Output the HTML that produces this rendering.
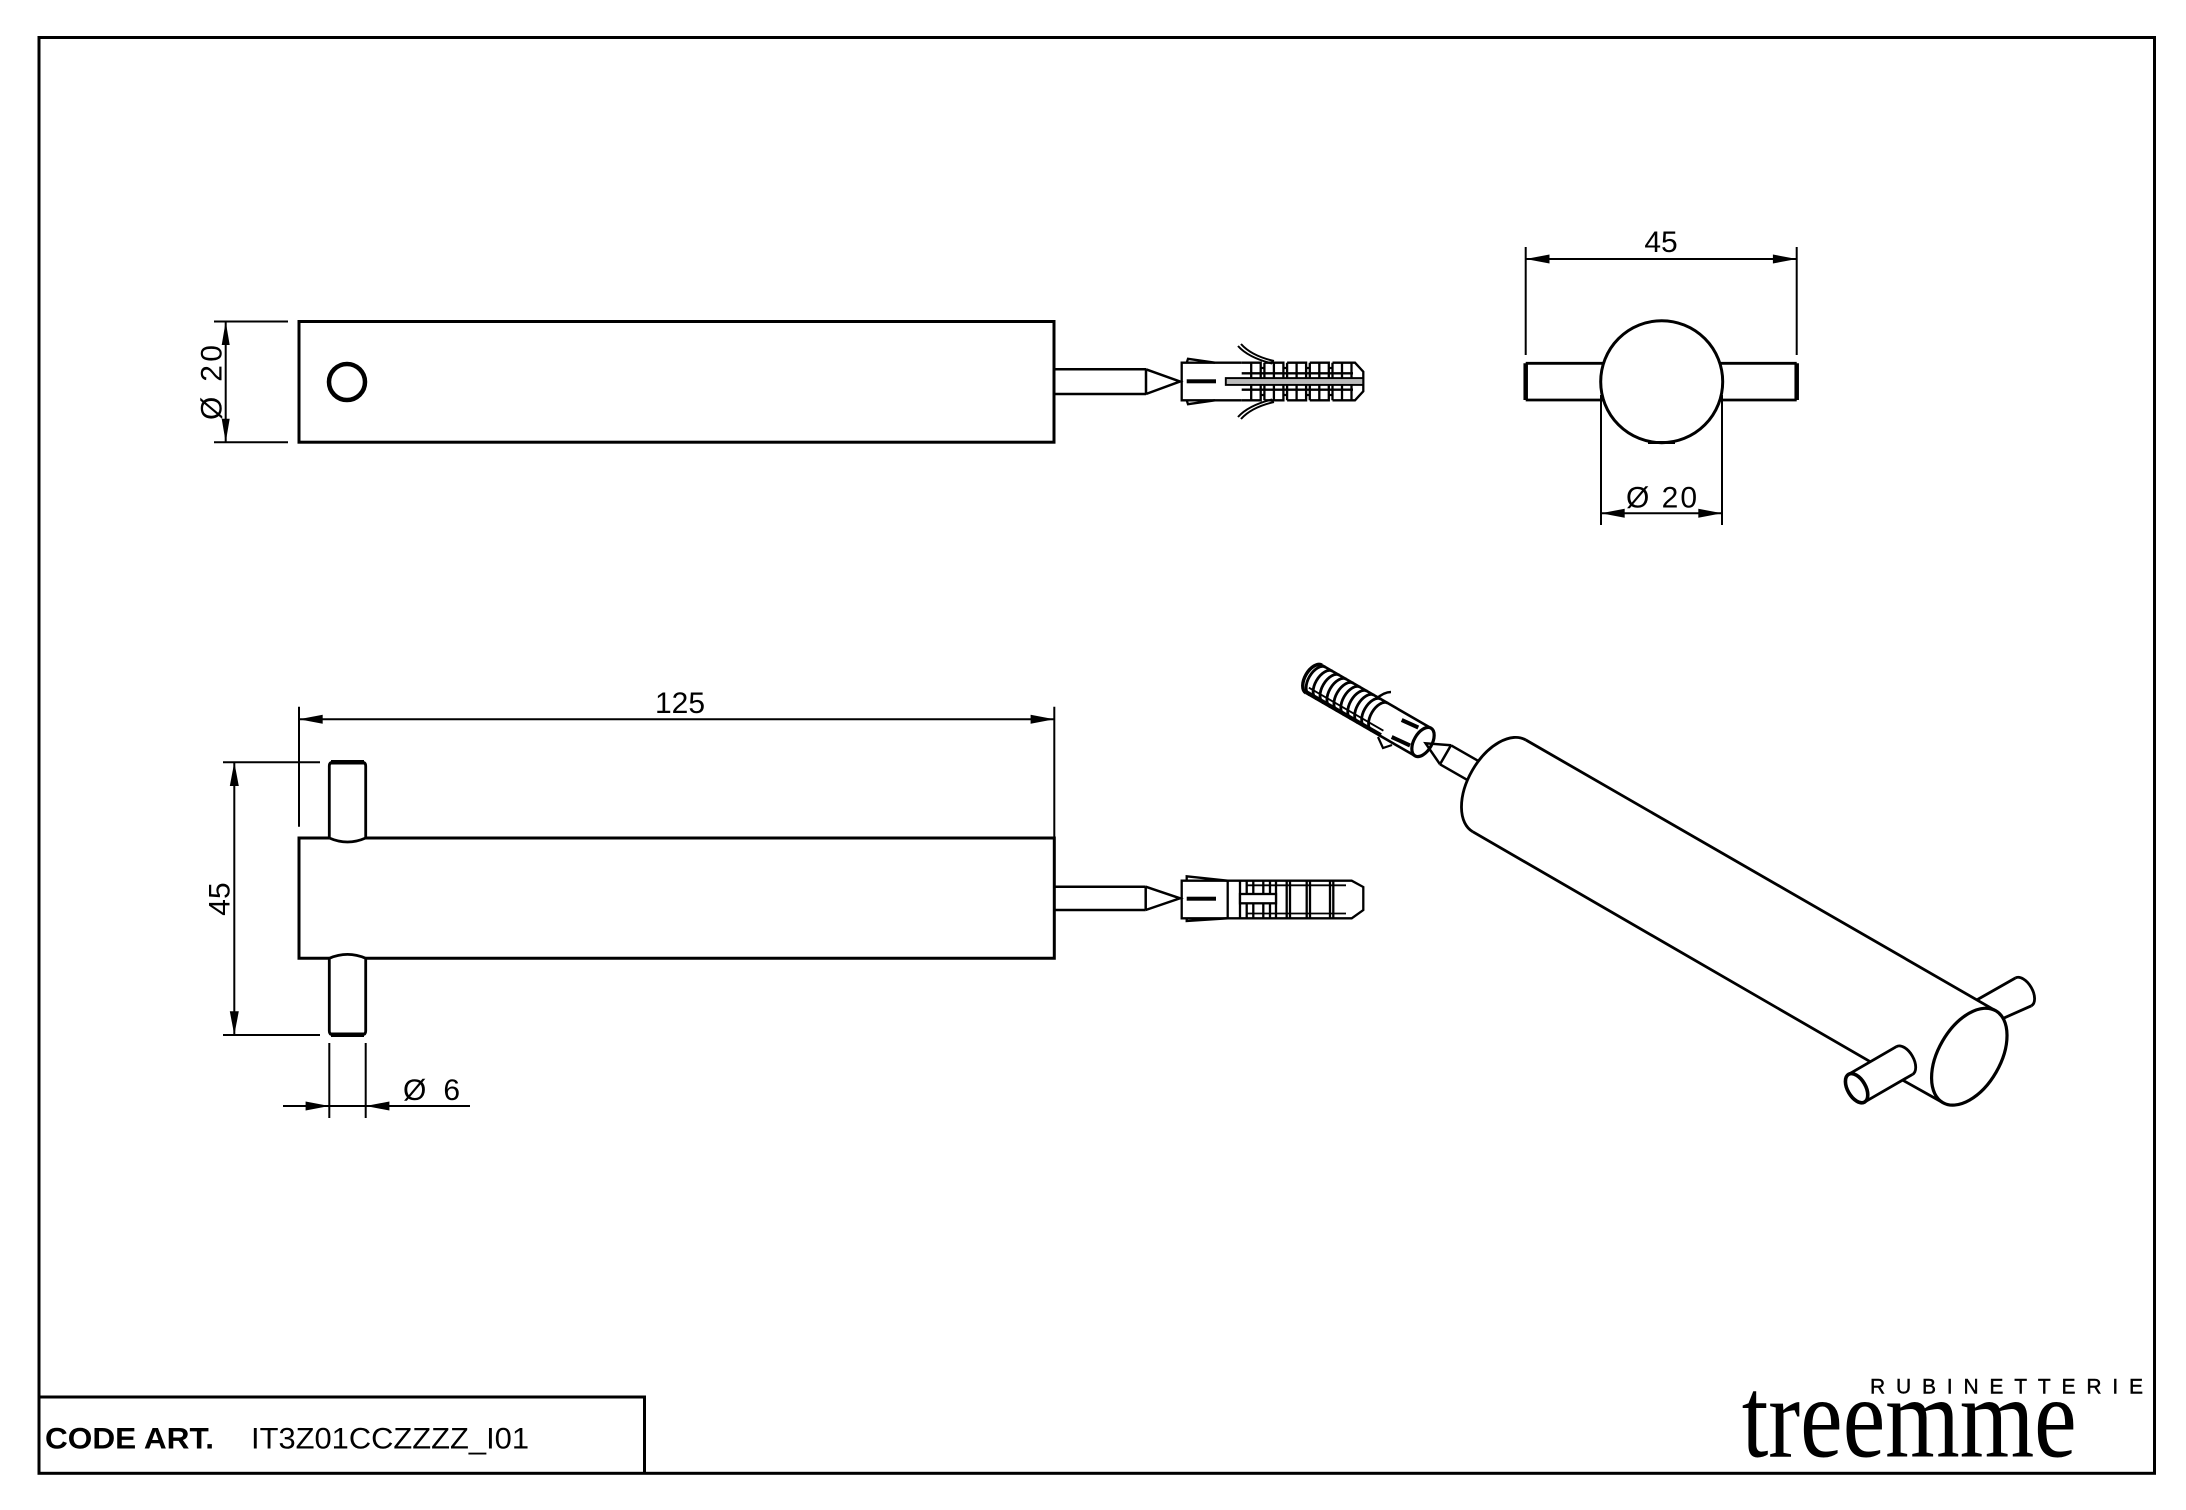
<!DOCTYPE html>
<html>
<head>
<meta charset="utf-8">
<style>
html,body{margin:0;padding:0;background:#fff;}
svg{display:block;}
text{font-family:"Liberation Sans",Arial,sans-serif;fill:#000;}
</style>
</head>
<body>
<svg width="2186" height="1510" viewBox="0 0 2186 1510" xmlns="http://www.w3.org/2000/svg">
<rect x="0" y="0" width="2186" height="1510" fill="#fff"/>

<!-- outer border -->
<rect x="39" y="37.5" width="2115.5" height="1435.8" fill="none" stroke="#000" stroke-width="3"/>
<!-- title block -->
<path d="M39,1397 H644.5 V1473.3" fill="none" stroke="#000" stroke-width="3"/>
<text x="45" y="1448.3" font-size="30" font-weight="bold" textLength="169" lengthAdjust="spacingAndGlyphs">CODE ART.</text>
<text x="251" y="1448.3" font-size="30" textLength="278" lengthAdjust="spacingAndGlyphs">IT3Z01CCZZZZ_I01</text>

<!-- logo -->
<text x="1870" y="1393.3" font-size="21" stroke="#000" stroke-width="0.4" textLength="273" lengthAdjust="spacing">RUBINETTERIE</text>
<text x="1741.7" y="1456.7" font-size="115" style="font-family:'Liberation Serif','Times New Roman',serif" textLength="335" lengthAdjust="spacingAndGlyphs">treemme</text>

<!-- ================= TOP-LEFT VIEW ================= -->
<g fill="none" stroke="#000">
  <rect x="299" y="321.5" width="755" height="120.7" stroke-width="3"/>
  <circle cx="347" cy="382" r="18" stroke-width="4.5"/>
  <path d="M214,321.5 H288 M214,442.2 H288 M225.7,321.5 V442.2" stroke-width="2"/>
  <path d="M1054,369.3 H1146 M1054,394 H1146 M1146,369.3 V394 M1146,369.3 L1180,381.5 L1146,394" stroke-width="2.5"/>
</g>
<polygon points="225.7,321.5 221.7,345 229.7,345" fill="#000"/>
<polygon points="225.7,442.2 221.7,418.7 229.7,418.7" fill="#000"/>
<text transform="translate(221.7,382.5) rotate(-90)" font-size="30" text-anchor="middle" textLength="75" lengthAdjust="spacing">Ø 20</text>

<!-- top anchor -->
<g fill="none" stroke="#000" stroke-width="2.3">
  <path d="M1241.7,362.7 H1181.7 V400.3 H1241.7"/>
  <path d="M1186.7,362.7 L1188,358.8 L1215,362.7 M1186.7,400.3 L1188,404.2 L1215,400.3"/>
  <path d="M1363.3,378.3 H1226 V384.7 H1363.3"/>
  <path d="M1241.7,373.3 H1353 M1241.7,389.7 H1353"/>
  <path d="M1241.7,362.7 H1260.7 V378.3 M1251.2,362.7 V378.3 M1260.7,368 H1264.4 M1264.4,362.7 H1283.4 V378.3 M1264.4,362.7 V378.3 M1273.9,362.7 V378.3 M1283.4,368 H1287.1 M1287.1,362.7 H1306.1 V378.3 M1287.1,362.7 V378.3 M1296.6,362.7 V378.3 M1306.1,368 H1309.8 M1309.8,362.7 H1328.8 V378.3 M1309.8,362.7 V378.3 M1319.3,362.7 V378.3 M1328.8,368 H1332.5 M1332.5,362.7 H1351.5 V378.3 M1332.5,362.7 V378.3 M1342,362.7 V378.3"/>
  <path d="M1241.7,400.3 H1260.7 V384.7 M1251.2,400.3 V384.7 M1260.7,395 H1264.4 M1264.4,400.3 H1283.4 V384.7 M1264.4,400.3 V384.7 M1273.9,400.3 V384.7 M1283.4,395 H1287.1 M1287.1,400.3 H1306.1 V384.7 M1287.1,400.3 V384.7 M1296.6,400.3 V384.7 M1306.1,395 H1309.8 M1309.8,400.3 H1328.8 V384.7 M1309.8,400.3 V384.7 M1319.3,400.3 V384.7 M1328.8,395 H1332.5 M1332.5,400.3 H1351.5 V384.7 M1332.5,400.3 V384.7 M1342,400.3 V384.7"/>
  <path d="M1351.5,362.7 H1355 L1363.3,371.7 V391.3 L1355,400.3 H1351.5"/>
  <path d="M1238,346 C1246,355 1258,360 1272,363.5 M1241,344 C1249,353 1261,358 1274,361" stroke-width="2"/>
  <path d="M1238,417 C1246,408 1258,403 1272,399.5 M1241,419 C1249,410 1261,405 1274,402" stroke-width="2"/>
</g>
<rect x="1226" y="378.3" width="137" height="6.4" fill="#bbb" stroke="#000" stroke-width="1.5"/>
<rect x="1186.7" y="379.3" width="29.3" height="4" fill="#000"/>

<!-- ================= TOP-RIGHT VIEW ================= -->
<g fill="none" stroke="#000">
  <path d="M1525.7,247 V355 M1796.7,247 V355 M1525.7,259 H1796.7" stroke-width="2"/>
  <circle cx="1661.7" cy="381.7" r="61" stroke-width="3"/>
  <path d="M1525.7,363.3 H1603.5 M1525.7,400 H1603.5 M1719.9,363.3 H1796.7 M1719.9,400 H1796.7" stroke-width="2.8"/>
  <path d="M1525.7,363.3 V400 M1796.7,363.3 V400" stroke-width="4.5"/>
  <path d="M1601,395 V525 M1722,395 V525 M1601,513.3 H1722" stroke-width="2"/>
  <path d="M1648,442.5 H1675" stroke-width="3"/>
</g>
<polygon points="1525.7,259 1549.5,254.5 1549.5,263.5" fill="#000"/>
<polygon points="1796.7,259 1772.9,254.5 1772.9,263.5" fill="#000"/>
<polygon points="1601,513.3 1624.7,508.8 1624.7,517.8" fill="#000"/>
<polygon points="1722,513.3 1698.3,508.8 1698.3,517.8" fill="#000"/>
<text x="1661" y="252" font-size="30" text-anchor="middle">45</text>
<text x="1626" y="507.3" font-size="30" textLength="71" lengthAdjust="spacing">Ø 20</text>

<!-- ================= BOTTOM-LEFT VIEW ================= -->
<g fill="none" stroke="#000">
  <path d="M329.3,838 H299 V958.3 H329.3 M365.7,958.3 H1054.3 V838 H365.7" stroke-width="3"/>
  <path d="M329.3,838 V766 Q329.3,762.3 333,762.3 H362 Q365.7,762.3 365.7,766 V838 Q347.5,846 329.3,838" stroke-width="2.8"/>
  <path d="M331,762.3 H364" stroke-width="4.5"/>
  <path d="M329.3,958.3 V1031 Q329.3,1034.7 333,1034.7 H362 Q365.7,1034.7 365.7,1031 V958.3 Q347.5,950.5 329.3,958.3" stroke-width="2.8"/>
  <path d="M331,1034.7 H364" stroke-width="4.5"/>
  <path d="M299,706.7 V826.7 M1054.3,706.7 V838 M299,719.3 H1054.3" stroke-width="2"/>
  <path d="M223,762.3 H320 M223,1035 H320 M234.3,762.3 V1035" stroke-width="2"/>
  <path d="M329.3,1043 V1118 M365.7,1043 V1118 M283,1106 H470" stroke-width="2"/>
  <path d="M1054.3,886.7 H1145.7 M1054.3,910 H1145.7 M1145.7,886.7 V910 M1145.7,886.7 L1180,898.3 L1145.7,910" stroke-width="2.5"/>
</g>
<polygon points="299,719.3 322.7,714.8 322.7,723.8" fill="#000"/>
<polygon points="1054.3,719.3 1030.6,714.8 1030.6,723.8" fill="#000"/>
<polygon points="234.3,762.3 229.8,786 238.8,786" fill="#000"/>
<polygon points="234.3,1035 229.8,1011.3 238.8,1011.3" fill="#000"/>
<polygon points="329.3,1106 305.6,1101.5 305.6,1110.5" fill="#000"/>
<polygon points="365.7,1106 389.4,1101.5 389.4,1110.5" fill="#000"/>
<text x="680" y="713" font-size="30" text-anchor="middle">125</text>
<text transform="translate(229.3,899) rotate(-90)" font-size="30" text-anchor="middle">45</text>
<text x="403" y="1100" font-size="30" textLength="57" lengthAdjust="spacing">Ø 6</text>

<!-- bottom anchor -->
<g fill="none" stroke="#000" stroke-width="2.3">
  <path d="M1181.7,880.7 H1351.7 L1363.3,887 V910 L1351.7,918.3 H1181.7 Z"/>
  <path d="M1186.7,880.7 V876.3 L1227.7,880.7 M1186.7,918.3 V921 L1227.7,918.3"/>
  <path d="M1227.7,880.7 V918.3"/>
  <path d="M1240,880.7 V918.3 M1246.7,880.7 V918.3 M1253.3,880.7 V918.3 M1263.3,880.7 V918.3 M1270,880.7 V918.3 M1276,880.7 V918.3 M1286.7,880.7 V918.3 M1290,880.7 V918.3 M1306.7,880.7 V918.3 M1310,880.7 V918.3 M1330,880.7 V918.3 M1333.3,880.7 V918.3"/>
  <path d="M1246.7,885.3 H1346 M1246.7,913.5 H1346" stroke-width="1.8"/>
  <rect x="1240" y="894" width="36" height="9.3" fill="#fff"/>
</g>
<rect x="1186.7" y="896.7" width="29.3" height="4" fill="#000"/>

<!-- ================= ISOMETRIC VIEW ================= -->
<g fill="none" stroke="#000" stroke-width="2.8">
  <path d="M1525.7,739.9 L1995.8,1010.8"/>
  <path d="M1472.7,831.7 L1870,1061.6 M1903,1080.3 L1942.8,1102.6"/>
  <path d="M1525.7,739.9 A31,53 30 0 0 1472.7,831.7"/>
  <ellipse cx="1969.3" cy="1056.7" rx="31" ry="53" transform="rotate(30 1969.3 1056.7)" stroke-width="3.2"/>
  <path d="M1976.7,1000 L2015.4,978 M2003.3,1018.3 L2031.4,1005.8"/>
  <path d="M2015.4,978 A9,16 -30 0 1 2031.4,1005.8"/>
  <path d="M1848.6,1074.3 L1896.5,1046.6 M1864.6,1102.1 L1912.5,1074.4"/>
  <path d="M1896.5,1046.6 A9,16 -30 0 1 1912.5,1074.4"/>
  <ellipse cx="1856.6" cy="1088.2" rx="9" ry="16" transform="rotate(-30 1856.6 1088.2)" stroke-width="3.6"/>
  <path d="M1478.5,761.1 L1451,745.3 M1467.5,780.1 L1440,764.3 M1451,745.3 L1440,764.3 M1451,745.3 L1425.6,743.3 L1440,764.3" stroke-width="2.5"/>
  <ellipse cx="1423" cy="742" rx="9" ry="16" transform="rotate(30 1423 742)" stroke-width="3.2"/>
  <path d="M1431,728.1 L1321.9,665.1 M1415,755.9 L1305.9,692.9" stroke-width="2.6"/>
  <path d="M1321.9,665.1 A9,16 30 0 0 1305.9,692.9" stroke-width="3.4"/>
  <g stroke-width="2.8">
    <path d="M1387.7,703.1 A9,16 30 0 0 1371.7,730.9"/>
    <path d="M1380.8,699.1 A9,16 30 0 0 1364.8,726.9"/>
    <path d="M1373.8,695.1 A9,16 30 0 0 1357.8,722.9"/>
    <path d="M1366.9,691.1 A9,16 30 0 0 1350.9,718.9"/>
    <path d="M1360,687.1 A9,16 30 0 0 1344,714.9"/>
    <path d="M1353.1,683.1 A9,16 30 0 0 1337.1,710.9"/>
    <path d="M1346.1,679.1 A9,16 30 0 0 1330.1,706.9"/>
    <path d="M1339.2,675.1 A9,16 30 0 0 1323.2,702.9"/>
    <path d="M1332.3,671.1 A9,16 30 0 0 1316.3,698.9"/>
    <path d="M1325.3,667.1 A9,16 30 0 0 1309.3,694.9"/>
  </g>
  <path d="M1383.4,730.7 L1308.9,687.7 M1381.4,734.2 L1306.9,691.2" stroke-width="1.8"/>
  <path d="M1378,737 L1383,748 L1392,745" stroke-width="2.2"/>
  <path d="M1376,699 Q1384,692 1391,692" stroke-width="2.4"/>
  <path d="M1401.7,720 L1418.3,727.5 M1391.7,737 L1410,745.5" stroke-width="4"/>
</g>
</svg>
</body>
</html>
